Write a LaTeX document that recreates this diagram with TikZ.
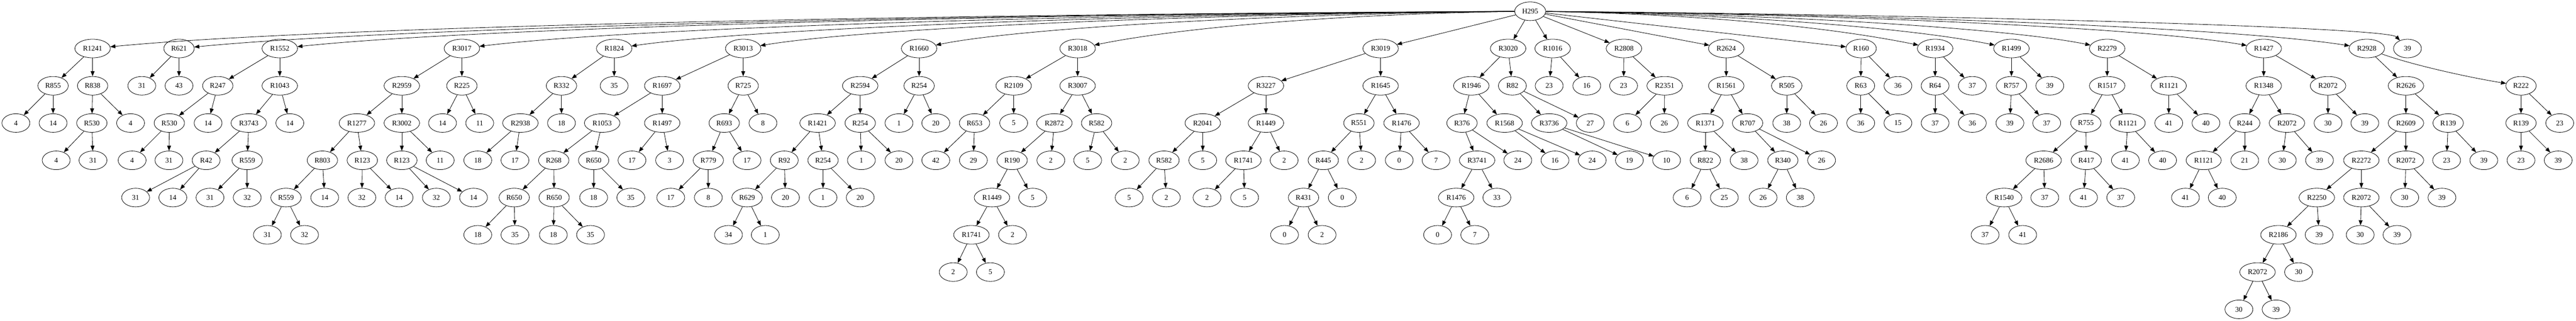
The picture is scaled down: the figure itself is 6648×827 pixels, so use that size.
\documentclass[tikz,border=0pt]{standalone}
\usepackage{fontspec}
\setmainfont{Liberation Serif}
\usetikzlibrary{shapes.geometric, arrows.meta}
\tikzset{
  bub/.style = {ellipse, draw, line width=1.1pt,
                minimum width=72pt, minimum height=48pt,
                inner xsep=7.5pt, inner ysep=2pt,
                font=\fontsize{18.67pt}{22pt}\selectfont},
  link/.style = {-{Triangle[length=13pt, width=10pt]}, line width=1.1pt}
}

\begin{document}
\begin{tikzpicture}[x=1pt, y=-1pt]
	\def \h{96}
	\useasboundingbox (0,-29) rectangle (6648,798);

	% Root
	\node[bub] (root) at (3949, 0*\h) {H295};

	% Rank 1
	\node[bub] (a239)  at (239, 1*\h)  {R1241};
	\node[bub] (a462)  at (462, 1*\h)  {R621};
	\node[bub] (a722)  at (722, 1*\h)  {R1552};
	\node[bub] (a1192) at (1192, 1*\h) {R3017};
	\node[bub] (a1585) at (1585, 1*\h) {R1824};
	\node[bub] (a1918) at (1918, 1*\h) {R3013};
	\node[bub] (a2372) at (2372, 1*\h) {R1660};
	\node[bub] (a2781) at (2781, 1*\h) {R3018};
	\node[bub] (a3563) at (3563, 1*\h) {R3019};
	\node[bub] (a3892) at (3892, 1*\h) {R3020};
	\node[bub] (a4007) at (4007, 1*\h) {R1016};
	\node[bub] (a4191) at (4191, 1*\h) {R2808};
	\node[bub] (a4455) at (4455, 1*\h) {R2624};
	\node[bub] (a4803) at (4803, 1*\h) {R160};
	\node[bub] (a4994) at (4994, 1*\h) {R1934};
	\node[bub] (a5191) at (5191, 1*\h) {R1499};
	\node[bub] (a5438) at (5438, 1*\h) {R2279};
	\node[bub] (a5842) at (5842, 1*\h) {R1427};
	\node[bub] (a6108) at (6108, 1*\h) {R2928};
	\node[bub] (a6213) at (6213, 1*\h) {39};

	% Rank 2
	\node[bub] (b137)  at (137, 2*\h)  {R855};
	\node[bub] (b239)  at (239, 2*\h)  {R838};
	\node[bub] (b366)  at (366, 2*\h)  {31};
	\node[bub] (b462)  at (462, 2*\h)  {43};
	\node[bub] (b562)  at (562, 2*\h)  {R247};
	\node[bub] (b722)  at (722, 2*\h)  {R1043};
	\node[bub] (b1037) at (1037, 2*\h) {R2959};
	\node[bub] (b1192) at (1192, 2*\h) {R225};
	\node[bub] (b1449) at (1449, 2*\h) {R332};
	\node[bub] (b1585) at (1585, 2*\h) {35};
	\node[bub] (b1709) at (1709, 2*\h) {R1697};
	\node[bub] (b1918) at (1918, 2*\h) {R725};
	\node[bub] (b2220) at (2220, 2*\h) {R2594};
	\node[bub] (b2372) at (2372, 2*\h) {R254};
	\node[bub] (b2616) at (2616, 2*\h) {R2109};
	\node[bub] (b2781) at (2781, 2*\h) {R3007};
	\node[bub] (b3267) at (3267, 2*\h) {R3227};
	\node[bub] (b3563) at (3563, 2*\h) {R1645};
	\node[bub] (b3797) at (3797, 2*\h) {R1946};
	\node[bub] (b3903) at (3903, 2*\h) {R82};
	\node[bub] (b3998) at (3998, 2*\h) {23};
	\node[bub] (b4095) at (4095, 2*\h) {16};
	\node[bub] (b4190) at (4190, 2*\h) {23};
	\node[bub] (b4296) at (4296, 2*\h) {R2351};
	\node[bub] (b4455) at (4455, 2*\h) {R1561};
	\node[bub] (b4611) at (4611, 2*\h) {R505};
	\node[bub] (b4802) at (4802, 2*\h) {R63};
	\node[bub] (b4898) at (4898, 2*\h) {36};
	\node[bub] (b4994) at (4994, 2*\h) {R64};
	\node[bub] (b5090) at (5090, 2*\h) {37};
	\node[bub] (b5191) at (5191, 2*\h) {R757};
	\node[bub] (b5290) at (5290, 2*\h) {39};
	\node[bub] (b5438) at (5438, 2*\h) {R1517};
	\node[bub] (b5597) at (5597, 2*\h) {R1121};
	\node[bub] (b5842) at (5842, 2*\h) {R1348};
	\node[bub] (b6008) at (6008, 2*\h) {R2072};
	\node[bub] (b6209) at (6209, 2*\h) {R2626};
	\node[bub] (b6506) at (6506, 2*\h) {R222};

	% Rank 3
	\node[bub] (c41)   at (41, 3*\h)   {4};
	\node[bub] (c137)  at (137, 3*\h)  {14};
	\node[bub] (c237)  at (237, 3*\h)  {R530};
	\node[bub] (c337)  at (337, 3*\h)  {4};
	\node[bub] (c437)  at (437, 3*\h)  {R530};
	\node[bub] (c537)  at (537, 3*\h)  {14};
	\node[bub] (c642)  at (642, 3*\h)  {R3743};
	\node[bub] (c748)  at (748, 3*\h)  {14};
	\node[bub] (c921)  at (921, 3*\h)  {R1277};
	\node[bub] (c1037) at (1037, 3*\h) {R3002};
	\node[bub] (c1142) at (1142, 3*\h) {14};
	\node[bub] (c1238) at (1238, 3*\h) {11};
	\node[bub] (c1343) at (1343, 3*\h) {R2938};
	\node[bub] (c1449) at (1449, 3*\h) {18};
	\node[bub] (c1554) at (1554, 3*\h) {R1053};
	\node[bub] (c1709) at (1709, 3*\h) {R1497};
	\node[bub] (c1869) at (1869, 3*\h) {R693};
	\node[bub] (c1969) at (1969, 3*\h) {8};
	\node[bub] (c2110) at (2110, 3*\h) {R1421};
	\node[bub] (c2220) at (2220, 3*\h) {R254};
	\node[bub] (c2320) at (2320, 3*\h) {1};
	\node[bub] (c2415) at (2415, 3*\h) {20};
	\node[bub] (c2515) at (2515, 3*\h) {R653};
	\node[bub] (c2616) at (2616, 3*\h) {5};
	\node[bub] (c2721) at (2721, 3*\h) {R2872};
	\node[bub] (c2830) at (2830, 3*\h) {R582};
	\node[bub] (c3104) at (3104, 3*\h) {R2041};
	\node[bub] (c3267) at (3267, 3*\h) {R1449};
	\node[bub] (c3507) at (3507, 3*\h) {R551};
	\node[bub] (c3617) at (3617, 3*\h) {R1476};
	\node[bub] (c3773) at (3773, 3*\h) {R376};
	\node[bub] (c3883) at (3883, 3*\h) {R1568};
	\node[bub] (c3998) at (3998, 3*\h) {R3736};
	\node[bub] (c4104) at (4104, 3*\h) {27};
	\node[bub] (c4200) at (4200, 3*\h) {6};
	\node[bub] (c4295) at (4295, 3*\h) {26};
	\node[bub] (c4401) at (4401, 3*\h) {R1371};
	\node[bub] (c4510) at (4510, 3*\h) {R707};
	\node[bub] (c4611) at (4611, 3*\h) {38};
	\node[bub] (c4706) at (4706, 3*\h) {26};
	\node[bub] (c4802) at (4802, 3*\h) {36};
	\node[bub] (c4898) at (4898, 3*\h) {15};
	\node[bub] (c4994) at (4994, 3*\h) {37};
	\node[bub] (c5090) at (5090, 3*\h) {36};
	\node[bub] (c5187) at (5187, 3*\h) {39};
	\node[bub] (c5282) at (5282, 3*\h) {37};
	\node[bub] (c5383) at (5383, 3*\h) {R755};
	\node[bub] (c5491) at (5491, 3*\h) {R1121};
	\node[bub] (c5597) at (5597, 3*\h) {41};
	\node[bub] (c5693) at (5693, 3*\h) {40};
	\node[bub] (c5793) at (5793, 3*\h) {R244};
	\node[bub] (c5902) at (5902, 3*\h) {R2072};
	\node[bub] (c6008) at (6008, 3*\h) {30};
	\node[bub] (c6103) at (6103, 3*\h) {39};
	\node[bub] (c6209) at (6209, 3*\h) {R2609};
	\node[bub] (c6318) at (6318, 3*\h) {R139};
	\node[bub] (c6506) at (6506, 3*\h) {R139};
	\node[bub] (c6606) at (6606, 3*\h) {23};

	% Rank 4
	\node[bub] (d145)  at (145, 4*\h)  {4};
	\node[bub] (d240)  at (240, 4*\h)  {31};
	\node[bub] (d341)  at (341, 4*\h)  {4};
	\node[bub] (d436)  at (436, 4*\h)  {31};
	\node[bub] (d532)  at (532, 4*\h)  {R42};
	\node[bub] (d638)  at (638, 4*\h)  {R559};
	\node[bub] (d832)  at (832, 4*\h)  {R803};
	\node[bub] (d935)  at (935, 4*\h)  {R123};
	\node[bub] (d1037) at (1037, 4*\h) {R123};
	\node[bub] (d1136) at (1136, 4*\h) {11};
	\node[bub] (d1233) at (1233, 4*\h) {18};
	\node[bub] (d1329) at (1329, 4*\h) {17};
	\node[bub] (d1429) at (1429, 4*\h) {R268};
	\node[bub] (d1532) at (1532, 4*\h) {R650};
	\node[bub] (d1631) at (1631, 4*\h) {17};
	\node[bub] (d1728) at (1728, 4*\h) {3};
	\node[bub] (d1828) at (1828, 4*\h) {R779};
	\node[bub] (d1928) at (1928, 4*\h) {17};
	\node[bub] (d2024) at (2024, 4*\h) {R92};
	\node[bub] (d2124) at (2124, 4*\h) {R254};
	\node[bub] (d2223) at (2223, 4*\h) {1};
	\node[bub] (d2320) at (2320, 4*\h) {20};
	\node[bub] (d2415) at (2415, 4*\h) {42};
	\node[bub] (d2512) at (2512, 4*\h) {29};
	\node[bub] (d2612) at (2612, 4*\h) {R190};
	\node[bub] (d2712) at (2712, 4*\h) {2};
	\node[bub] (d2807) at (2807, 4*\h) {5};
	\node[bub] (d2904) at (2904, 4*\h) {2};
	\node[bub] (d3004) at (3004, 4*\h) {R582};
	\node[bub] (d3104) at (3104, 4*\h) {5};
	\node[bub] (d3209) at (3209, 4*\h) {R1741};
	\node[bub] (d3314) at (3314, 4*\h) {2};
	\node[bub] (d3415) at (3415, 4*\h) {R445};
	\node[bub] (d3514) at (3514, 4*\h) {2};
	\node[bub] (d3611) at (3611, 4*\h) {0};
	\node[bub] (d3706) at (3706, 4*\h) {7};
	\node[bub] (d3812) at (3812, 4*\h) {R3741};
	\node[bub] (d3917) at (3917, 4*\h) {24};
	\node[bub] (d4013) at (4013, 4*\h) {16};
	\node[bub] (d4109) at (4109, 4*\h) {24};
	\node[bub] (d4205) at (4205, 4*\h) {19};
	\node[bub] (d4301) at (4301, 4*\h) {10};
	\node[bub] (d4401) at (4401, 4*\h) {R822};
	\node[bub] (d4501) at (4501, 4*\h) {38};
	\node[bub] (d4601) at (4601, 4*\h) {R340};
	\node[bub] (d4701) at (4701, 4*\h) {26};
	\node[bub] (d5274) at (5274, 4*\h) {R2686};
	\node[bub] (d5384) at (5384, 4*\h) {R417};
	\node[bub] (d5485) at (5485, 4*\h) {41};
	\node[bub] (d5581) at (5581, 4*\h) {40};
	\node[bub] (d5687) at (5687, 4*\h) {R1121};
	\node[bub] (d5793) at (5793, 4*\h) {21};
	\node[bub] (d5890) at (5890, 4*\h) {30};
	\node[bub] (d5986) at (5986, 4*\h) {39};
	\node[bub] (d6094) at (6094, 4*\h) {R2272};
	\node[bub] (d6209) at (6209, 4*\h) {R2072};
	\node[bub] (d6314) at (6314, 4*\h) {23};
	\node[bub] (d6410) at (6410, 4*\h) {39};
	\node[bub] (d6506) at (6506, 4*\h) {23};
	\node[bub] (d6602) at (6602, 4*\h) {39};

	% Rank 5
	\node[bub] (e350)  at (350, 5*\h)  {31};
	\node[bub] (e446)  at (446, 5*\h)  {14};
	\node[bub] (e542)  at (542, 5*\h)  {31};
	\node[bub] (e638)  at (638, 5*\h)  {32};
	\node[bub] (e738)  at (738, 5*\h)  {R559};
	\node[bub] (e838)  at (838, 5*\h)  {14};
	\node[bub] (e934)  at (934, 5*\h)  {32};
	\node[bub] (e1030) at (1030, 5*\h) {14};
	\node[bub] (e1126) at (1126, 5*\h) {32};
	\node[bub] (e1222) at (1222, 5*\h) {14};
	\node[bub] (e1327) at (1327, 5*\h) {R650};
	\node[bub] (e1430) at (1430, 5*\h) {R650};
	\node[bub] (e1532) at (1532, 5*\h) {18};
	\node[bub] (e1628) at (1628, 5*\h) {35};
	\node[bub] (e1731) at (1731, 5*\h) {17};
	\node[bub] (e1828) at (1828, 5*\h) {8};
	\node[bub] (e1928) at (1928, 5*\h) {R629};
	\node[bub] (e2027) at (2027, 5*\h) {20};
	\node[bub] (e2124) at (2124, 5*\h) {1};
	\node[bub] (e2220) at (2220, 5*\h) {20};
	\node[bub] (e2560) at (2560, 5*\h) {R1449};
	\node[bub] (e2665) at (2665, 5*\h) {5};
	\node[bub] (e2914) at (2914, 5*\h) {5};
	\node[bub] (e3010) at (3010, 5*\h) {2};
	\node[bub] (e3115) at (3115, 5*\h) {2};
	\node[bub] (e3212) at (3212, 5*\h) {5};
	\node[bub] (e3364) at (3364, 5*\h) {R431};
	\node[bub] (e3464) at (3464, 5*\h) {0};
	\node[bub] (e3758) at (3758, 5*\h) {R1476};
	\node[bub] (e3863) at (3863, 5*\h) {33};
	\node[bub] (e4354) at (4354, 5*\h) {6};
	\node[bub] (e4450) at (4450, 5*\h) {25};
	\node[bub] (e4550) at (4550, 5*\h) {26};
	\node[bub] (e4646) at (4646, 5*\h) {38};
	\node[bub] (e5172) at (5172, 5*\h) {R1540};
	\node[bub] (e5277) at (5277, 5*\h) {37};
	\node[bub] (e5377) at (5377, 5*\h) {41};
	\node[bub] (e5473) at (5473, 5*\h) {37};
	\node[bub] (e5640) at (5640, 5*\h) {41};
	\node[bub] (e5735) at (5735, 5*\h) {40};
	\node[bub] (e5979) at (5979, 5*\h) {R2250};
	\node[bub] (e6094) at (6094, 5*\h) {R2072};
	\node[bub] (e6206) at (6206, 5*\h) {30};
	\node[bub] (e6302) at (6302, 5*\h) {39};

	% Rank 6
	\node[bub] (f690)  at (690, 6*\h)  {31};
	\node[bub] (f786)  at (786, 6*\h)  {32};
	\node[bub] (f1233) at (1233, 6*\h) {18};
	\node[bub] (f1329) at (1329, 6*\h) {35};
	\node[bub] (f1428) at (1428, 6*\h) {18};
	\node[bub] (f1524) at (1524, 6*\h) {35};
	\node[bub] (f1880) at (1880, 6*\h) {34};
	\node[bub] (f1975) at (1975, 6*\h) {1};
	\node[bub] (f2507) at (2507, 6*\h) {R1741};
	\node[bub] (f2613) at (2613, 6*\h) {2};
	\node[bub] (f3315) at (3315, 6*\h) {0};
	\node[bub] (f3412) at (3412, 6*\h) {2};
	\node[bub] (f3710) at (3710, 6*\h) {0};
	\node[bub] (f3806) at (3806, 6*\h) {7};
	\node[bub] (f5123) at (5123, 6*\h) {37};
	\node[bub] (f5220) at (5220, 6*\h) {41};
	\node[bub] (f5880) at (5880, 6*\h) {R2186};
	\node[bub] (f5985) at (5985, 6*\h) {39};
	\node[bub] (f6091) at (6091, 6*\h) {30};
	\node[bub] (f6186) at (6186, 6*\h) {39};

	% Rank 7-8
	\node[bub] (g2460) at (2460, 7*\h) {2};
	\node[bub] (g2556) at (2556, 7*\h) {5};
	\node[bub] (g5826) at (5826, 7*\h) {R2072};
	\node[bub] (g5932) at (5932, 7*\h) {30};
	\node[bub] (h5778) at (5778, 8*\h) {30};
	\node[bub] (h5874) at (5874, 8*\h) {39};

	% Edges from root (long ones bowed over rank 1)
	\draw[link] (root) .. controls (2279,8) and (796,42) .. (a239);
	\draw[link] (root) .. controls (2380,8) and (985,45) .. (a462);
	\draw[link] (root) .. controls (2497,8) and (1206,45) .. (a722);
	\draw[link] (root) .. controls (2708,8) and (1606,45) .. (a1192);
	\draw[link] (root) .. controls (2885,8) and (1940,45) .. (a1585);
	\draw[link] (root) .. controls (3035,8) and (2223,45) .. (a1918);
	\draw[link] (root) .. controls (3239,8) and (2622,45) .. (a2372);
	\draw[link] (root) .. controls (3423,8) and (3031,45) .. (a2781);
	\draw[link] (root) -- (a3563);
	\draw[link] (root) -- (a3892);
	\draw[link] (root) -- (a4007);
	\draw[link] (root) -- (a4191);
	\draw[link] (root) -- (a4455);
	\draw[link] (root) -- (a4803);
	\draw[link] (root) .. controls (4419,8) and (4744,45) .. (a4994);
	\draw[link] (root) .. controls (4508,8) and (4941,45) .. (a5191);
	\draw[link] (root) .. controls (4619,8) and (5188,45) .. (a5438);
	\draw[link] (root) .. controls (4801,8) and (5558,45) .. (a5842);
	\draw[link] (root) .. controls (4921,8) and (5784,45) .. (a6108);
	\draw[link] (root) .. controls (4968,8) and (6160,40) .. (a6213);

	% Rank 1 -> 2
	\draw[link] (a239) -- (b137);   \draw[link] (a239) -- (b239);
	\draw[link] (a462) -- (b366);   \draw[link] (a462) -- (b462);
	\draw[link] (a722) -- (b562);   \draw[link] (a722) -- (b722);
	\draw[link] (a1192) -- (b1037); \draw[link] (a1192) -- (b1192);
	\draw[link] (a1585) -- (b1449); \draw[link] (a1585) -- (b1585);
	\draw[link] (a1918) -- (b1709); \draw[link] (a1918) -- (b1918);
	\draw[link] (a2372) -- (b2220); \draw[link] (a2372) -- (b2372);
	\draw[link] (a2781) -- (b2616); \draw[link] (a2781) -- (b2781);
	\draw[link] (a3563) -- (b3267); \draw[link] (a3563) -- (b3563);
	\draw[link] (a3892) -- (b3797); \draw[link] (a3892) -- (b3903);
	\draw[link] (a4007) -- (b3998); \draw[link] (a4007) -- (b4095);
	\draw[link] (a4191) -- (b4190); \draw[link] (a4191) -- (b4296);
	\draw[link] (a4455) -- (b4455); \draw[link] (a4455) -- (b4611);
	\draw[link] (a4803) -- (b4802); \draw[link] (a4803) -- (b4898);
	\draw[link] (a4994) -- (b4994); \draw[link] (a4994) -- (b5090);
	\draw[link] (a5191) -- (b5191); \draw[link] (a5191) -- (b5290);
	\draw[link] (a5438) -- (b5438); \draw[link] (a5438) -- (b5597);
	\draw[link] (a5842) -- (b5842); \draw[link] (a5842) -- (b6008);
	\draw[link] (a6108) -- (b6209);
	\draw[link] (a6108) .. controls (6230,140) and (6380,172) .. (b6506);

	% Rank 2 -> 3
	\draw[link] (b137) -- (c41);    \draw[link] (b137) -- (c137);
	\draw[link] (b239) -- (c237);   \draw[link] (b239) -- (c337);
	\draw[link] (b562) -- (c437);   \draw[link] (b562) -- (c537);
	\draw[link] (b722) -- (c642);   \draw[link] (b722) -- (c748);
	\draw[link] (b1037) -- (c921);  \draw[link] (b1037) -- (c1037);
	\draw[link] (b1192) -- (c1142); \draw[link] (b1192) -- (c1238);
	\draw[link] (b1449) -- (c1343); \draw[link] (b1449) -- (c1449);
	\draw[link] (b1709) -- (c1554); \draw[link] (b1709) -- (c1709);
	\draw[link] (b1918) -- (c1869); \draw[link] (b1918) -- (c1969);
	\draw[link] (b2220) -- (c2110); \draw[link] (b2220) -- (c2220);
	\draw[link] (b2372) -- (c2320); \draw[link] (b2372) -- (c2415);
	\draw[link] (b2616) -- (c2515); \draw[link] (b2616) -- (c2616);
	\draw[link] (b2781) -- (c2721); \draw[link] (b2781) -- (c2830);
	\draw[link] (b3267) -- (c3104); \draw[link] (b3267) -- (c3267);
	\draw[link] (b3563) -- (c3507); \draw[link] (b3563) -- (c3617);
	\draw[link] (b3797) -- (c3773); \draw[link] (b3797) -- (c3883);
	\draw[link] (b3903) -- (c3998); \draw[link] (b3903) -- (c4104);
	\draw[link] (b4296) -- (c4200); \draw[link] (b4296) -- (c4295);
	\draw[link] (b4455) -- (c4401); \draw[link] (b4455) -- (c4510);
	\draw[link] (b4611) -- (c4611); \draw[link] (b4611) -- (c4706);
	\draw[link] (b4802) -- (c4802); \draw[link] (b4802) -- (c4898);
	\draw[link] (b4994) -- (c4994); \draw[link] (b4994) -- (c5090);
	\draw[link] (b5191) -- (c5187); \draw[link] (b5191) -- (c5282);
	\draw[link] (b5438) -- (c5383); \draw[link] (b5438) -- (c5491);
	\draw[link] (b5597) -- (c5597); \draw[link] (b5597) -- (c5693);
	\draw[link] (b5842) -- (c5793); \draw[link] (b5842) -- (c5902);
	\draw[link] (b6008) -- (c6008); \draw[link] (b6008) -- (c6103);
	\draw[link] (b6209) -- (c6209); \draw[link] (b6209) -- (c6318);
	\draw[link] (b6506) -- (c6506); \draw[link] (b6506) -- (c6606);

	% Rank 3 -> 4
	\draw[link] (c237) -- (d145);   \draw[link] (c237) -- (d240);
	\draw[link] (c437) -- (d341);   \draw[link] (c437) -- (d436);
	\draw[link] (c642) -- (d532);   \draw[link] (c642) -- (d638);
	\draw[link] (c921) -- (d832);   \draw[link] (c921) -- (d935);
	\draw[link] (c1037) -- (d1037); \draw[link] (c1037) -- (d1136);
	\draw[link] (c1343) -- (d1233); \draw[link] (c1343) -- (d1329);
	\draw[link] (c1554) -- (d1429); \draw[link] (c1554) -- (d1532);
	\draw[link] (c1709) -- (d1631); \draw[link] (c1709) -- (d1728);
	\draw[link] (c1869) -- (d1828); \draw[link] (c1869) -- (d1928);
	\draw[link] (c2110) -- (d2024); \draw[link] (c2110) -- (d2124);
	\draw[link] (c2220) -- (d2223); \draw[link] (c2220) -- (d2320);
	\draw[link] (c2515) -- (d2415); \draw[link] (c2515) -- (d2512);
	\draw[link] (c2721) -- (d2612); \draw[link] (c2721) -- (d2712);
	\draw[link] (c2830) -- (d2807); \draw[link] (c2830) -- (d2904);
	\draw[link] (c3104) -- (d3004); \draw[link] (c3104) -- (d3104);
	\draw[link] (c3267) -- (d3209); \draw[link] (c3267) -- (d3314);
	\draw[link] (c3507) -- (d3415); \draw[link] (c3507) -- (d3514);
	\draw[link] (c3617) -- (d3611); \draw[link] (c3617) -- (d3706);
	\draw[link] (c3773) -- (d3812); \draw[link] (c3773) -- (d3917);
	\draw[link] (c3883) -- (d4013); \draw[link] (c3883) -- (d4109);
	\draw[link] (c3998) -- (d4205); \draw[link] (c3998) -- (d4301);
	\draw[link] (c4401) -- (d4401); \draw[link] (c4401) -- (d4501);
	\draw[link] (c4510) -- (d4601); \draw[link] (c4510) -- (d4701);
	\draw[link] (c5383) -- (d5274); \draw[link] (c5383) -- (d5384);
	\draw[link] (c5491) -- (d5485); \draw[link] (c5491) -- (d5581);
	\draw[link] (c5793) -- (d5687); \draw[link] (c5793) -- (d5793);
	\draw[link] (c5902) -- (d5890); \draw[link] (c5902) -- (d5986);
	\draw[link] (c6209) -- (d6094); \draw[link] (c6209) -- (d6209);
	\draw[link] (c6318) -- (d6314); \draw[link] (c6318) -- (d6410);
	\draw[link] (c6506) -- (d6506); \draw[link] (c6506) -- (d6602);

	% Rank 4 -> 5
	\draw[link] (d532) -- (e350);   \draw[link] (d532) -- (e446);
	\draw[link] (d638) -- (e542);   \draw[link] (d638) -- (e638);
	\draw[link] (d832) -- (e738);   \draw[link] (d832) -- (e838);
	\draw[link] (d935) -- (e934);   \draw[link] (d935) -- (e1030);
	\draw[link] (d1037) -- (e1126); \draw[link] (d1037) -- (e1222);
	\draw[link] (d1429) -- (e1327); \draw[link] (d1429) -- (e1430);
	\draw[link] (d1532) -- (e1532); \draw[link] (d1532) -- (e1628);
	\draw[link] (d1828) -- (e1731); \draw[link] (d1828) -- (e1828);
	\draw[link] (d2024) -- (e1928); \draw[link] (d2024) -- (e2027);
	\draw[link] (d2124) -- (e2124); \draw[link] (d2124) -- (e2220);
	\draw[link] (d2612) -- (e2560); \draw[link] (d2612) -- (e2665);
	\draw[link] (d3004) -- (e2914); \draw[link] (d3004) -- (e3010);
	\draw[link] (d3209) -- (e3115); \draw[link] (d3209) -- (e3212);
	\draw[link] (d3415) -- (e3364); \draw[link] (d3415) -- (e3464);
	\draw[link] (d3812) -- (e3758); \draw[link] (d3812) -- (e3863);
	\draw[link] (d4401) -- (e4354); \draw[link] (d4401) -- (e4450);
	\draw[link] (d4601) -- (e4550); \draw[link] (d4601) -- (e4646);
	\draw[link] (d5274) -- (e5172); \draw[link] (d5274) -- (e5277);
	\draw[link] (d5384) -- (e5377); \draw[link] (d5384) -- (e5473);
	\draw[link] (d5687) -- (e5640); \draw[link] (d5687) -- (e5735);
	\draw[link] (d6094) -- (e5979); \draw[link] (d6094) -- (e6094);
	\draw[link] (d6209) -- (e6206); \draw[link] (d6209) -- (e6302);

	% Rank 5 -> 8
	\draw[link] (e738) -- (f690);   \draw[link] (e738) -- (f786);
	\draw[link] (e1327) -- (f1233); \draw[link] (e1327) -- (f1329);
	\draw[link] (e1430) -- (f1428); \draw[link] (e1430) -- (f1524);
	\draw[link] (e1928) -- (f1880); \draw[link] (e1928) -- (f1975);
	\draw[link] (e2560) -- (f2507); \draw[link] (e2560) -- (f2613);
	\draw[link] (e3364) -- (f3315); \draw[link] (e3364) -- (f3412);
	\draw[link] (e3758) -- (f3710); \draw[link] (e3758) -- (f3806);
	\draw[link] (e5172) -- (f5123); \draw[link] (e5172) -- (f5220);
	\draw[link] (e5979) -- (f5880); \draw[link] (e5979) -- (f5985);
	\draw[link] (e6094) -- (f6091); \draw[link] (e6094) -- (f6186);
	\draw[link] (f2507) -- (g2460); \draw[link] (f2507) -- (g2556);
	\draw[link] (f5880) -- (g5826); \draw[link] (f5880) -- (g5932);
	\draw[link] (g5826) -- (h5778); \draw[link] (g5826) -- (h5874);

\end{tikzpicture}
\end{document}
